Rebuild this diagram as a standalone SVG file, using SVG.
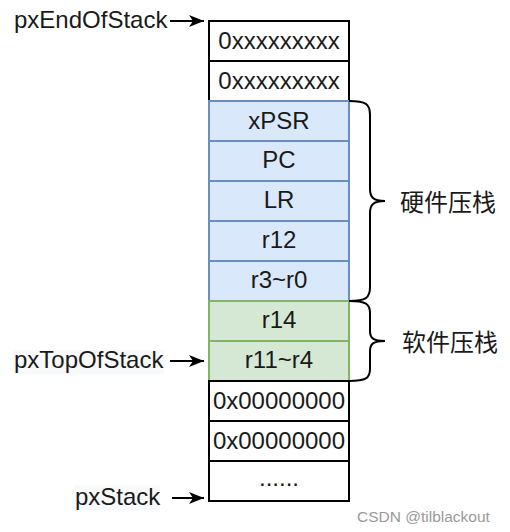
<svg xmlns="http://www.w3.org/2000/svg" width="510" height="532" viewBox="0 0 510 532">
<style>
.t{font-family:"Liberation Sans",Arial,sans-serif;font-size:24px;fill:#1a1a1a}
.c{text-anchor:middle}
.cjk{font-family:"Liberation Sans","Noto Sans CJK SC",sans-serif;font-size:24px;fill:#1a1a1a}
.w rect{fill:#fff;stroke:#000;stroke-width:2}
.b rect{fill:#dae8fc;stroke:#6c8ebf;stroke-width:2}
.g rect{fill:#d5e8d4;stroke:#82b366;stroke-width:2}
.a{stroke:#000;stroke-width:2;fill:none}
.br{stroke:#000;stroke-width:2;fill:none}
.bg{fill:#f8f9fa}
</style>
<defs>
<marker id="ah" markerUnits="userSpaceOnUse" markerWidth="16" markerHeight="14" refX="15" refY="7" orient="auto">
<path d="M0,1 L15,7 L0,13 L4,7 Z" fill="#000"/>
</marker>
</defs>
<rect width="510" height="532" fill="#fff"/>
<g id="cell1" class="w"><rect x="209" y="21" width="140" height="40"/><text class="t c" x="279" y="49">0xxxxxxxxx</text></g>
<g id="cell2" class="w"><rect x="209" y="61" width="140" height="40"/><text class="t c" x="279" y="89">0xxxxxxxxx</text></g>
<g id="xpsr" class="b"><rect x="209" y="101" width="140" height="40"/><text class="t c" x="279" y="129">xPSR</text></g>
<g id="pc" class="b"><rect x="209" y="141" width="140" height="40"/><text class="t c" x="279" y="168">PC</text></g>
<g id="lr" class="b"><rect x="209" y="181" width="140" height="40"/><text class="t c" x="279" y="208">LR</text></g>
<g id="r12" class="b"><rect x="209" y="221" width="140" height="40"/><text class="t c" x="279" y="248">r12</text></g>
<g id="r3r0" class="b"><rect x="209" y="261" width="140" height="40"/><text class="t c" x="279" y="288">r3~r0</text></g>
<g id="r14" class="g"><rect x="209" y="301" width="140" height="40"/><text class="t c" x="279" y="328">r14</text></g>
<g id="r11r4" class="g"><rect x="209" y="341" width="140" height="40"/><text class="t c" x="279" y="368">r11~r4</text></g>
<g id="zero1" class="w"><rect x="209" y="381" width="140" height="40"/><text class="t c" x="279" y="409">0x00000000</text></g>
<g id="zero2" class="w"><rect x="209" y="421" width="140" height="40"/><text class="t c" x="279" y="449">0x00000000</text></g>
<g id="dots" class="w"><rect x="209" y="461" width="140" height="40"/><text class="t c" x="279" y="486">......</text></g>
<g id="hwbrace"><path class="br" d="M349,101 C366,101 370,104 370,115 L370,189 C370,197 373,201 385,201 M385,201 C373,201 370,205 370,213 L370,287 C370,298 366,301 349,301"/><text class="cjk" x="400" y="211">硬件压栈</text></g>
<g id="swbrace"><path class="br" d="M349,301 C366,301 370,304 370,313 L370,331 C370,338 373,341 385,341 M385,341 C373,341 370,344 370,351 L370,369 C370,378 366,381 349,381"/><text class="cjk" x="402" y="351">软件压栈</text></g>
<g id="lblEnd"><text class="t" x="14" y="28">pxEndOfStack</text></g>
<g id="lblTop"><rect class="bg" x="14" y="350" width="150" height="24"/><text class="t" x="14" y="368">pxTopOfStack</text></g>
<g id="lblStack"><rect class="bg" x="75" y="485" width="85" height="25"/><text class="t" x="75" y="505">pxStack</text></g>
<g id="connectors">
<path class="a" d="M170,21 H204" marker-end="url(#ah)"/>
<path class="a" d="M170,361 H204" marker-end="url(#ah)"/>
<path class="a" d="M172,498 H204" marker-end="url(#ah)"/>
</g>
<text x="357" y="522" font-family="Liberation Sans,Arial,sans-serif" font-size="15.5" fill="#999">CSDN @tilblackout</text>
</svg>
